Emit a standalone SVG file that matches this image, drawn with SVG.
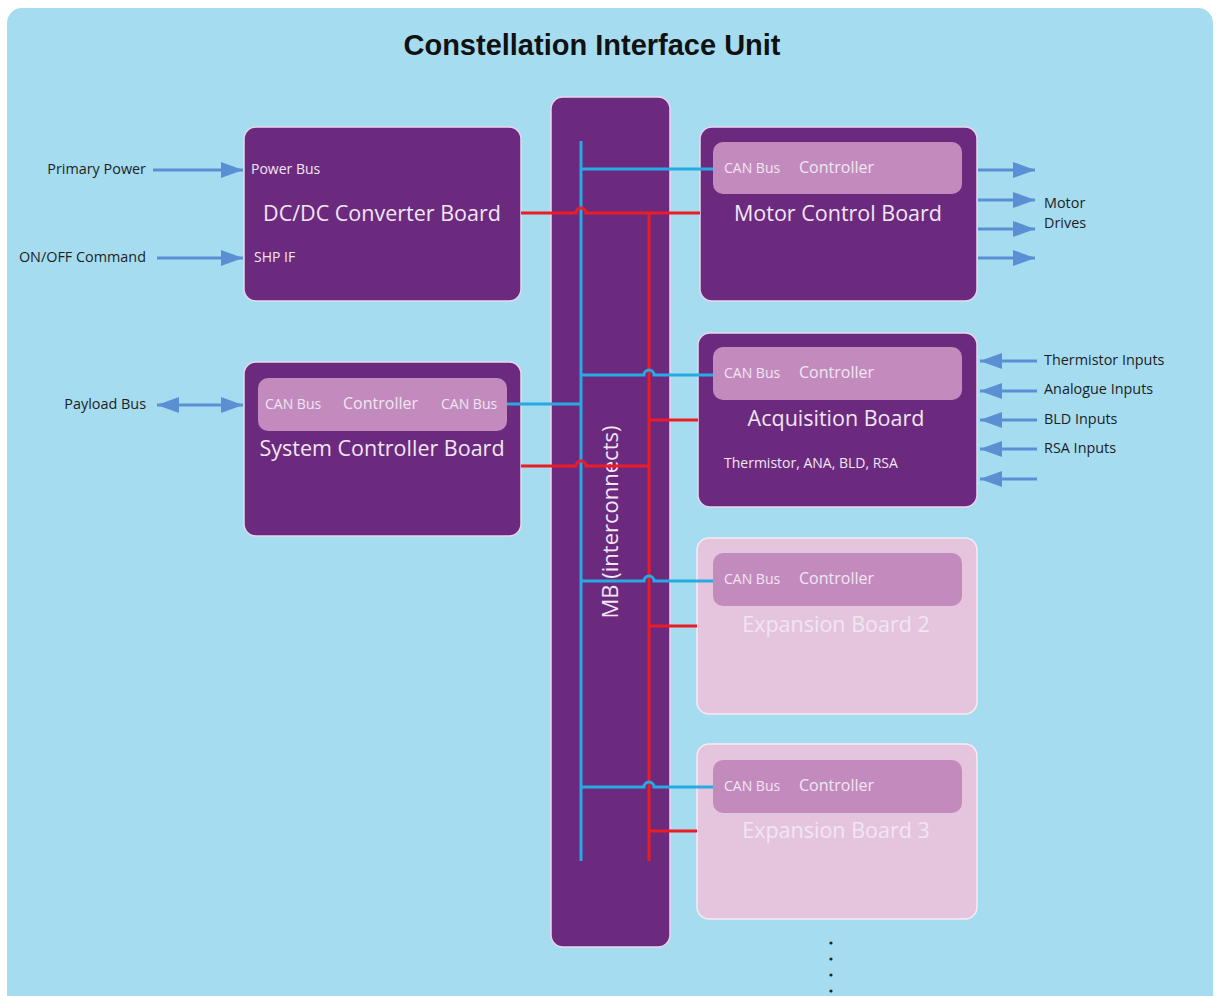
<svg xmlns="http://www.w3.org/2000/svg" width="1216" height="996" viewBox="0 0 1216 996">
<defs>
<marker id="ah" markerUnits="userSpaceOnUse" markerWidth="24" markerHeight="16" refX="22" refY="8" orient="auto-start-reverse">
<path d="M0 0 L22 8 L0 16 Z" fill="#5b8fd3"/>
</marker>
<style>
.board{fill:#6c2a7f;stroke:#e9d6ee;stroke-width:1.5}
.exp{fill:#e5c5de;stroke:#f6ecf4;stroke-width:1.5}
.inner{fill:#c38bbd}
.t{font-family:"Open Sans","DejaVu Sans",sans-serif;fill:#f1e6f3}
.sm{font-size:14px}
.md{font-size:16px}
.lg{font-size:21.5px}
.lbl{font-family:"Open Sans","DejaVu Sans",sans-serif;font-size:14.4px;fill:#1e1e1e}
.arr{stroke:#5b8fd3;stroke-width:3;fill:none}
.blue{stroke:#27a9e1;stroke-width:3;fill:none}
.red{stroke:#ec1c24;stroke-width:3;fill:none}
</style>
</defs>
<rect width="1216" height="996" fill="#ffffff"/>
<rect x="7" y="8" width="1206" height="1010" rx="15" fill="#a5dcf0"/>
<text x="592" y="55" text-anchor="middle" font-family="Liberation Sans,Arial,sans-serif" font-weight="bold" font-size="29" fill="#111">Constellation Interface Unit</text>

<g id="mb">
<rect x="551" y="97" width="119" height="850" rx="12" class="board"/>
<text class="t" font-size="22" transform="translate(618 522) rotate(-90)" text-anchor="middle">MB (interconnects)</text>
</g>

<g id="dcdc">
<rect x="244" y="127" width="277" height="174" rx="12" class="board"/>
<text class="t sm" x="251" y="174">Power Bus</text>
<text class="t sm" x="254" y="262">SHP IF</text>
<text class="t lg" x="382" y="221" text-anchor="middle">DC/DC Converter Board</text>
</g>

<g id="motor">
<rect x="700" y="127" width="277" height="174" rx="12" class="board"/>
<rect x="713" y="142" width="249" height="52" rx="10" class="inner"/>
<text class="t sm" x="724" y="173">CAN Bus</text>
<text class="t md" x="799" y="173">Controller</text>
<text class="t lg" x="838" y="221" text-anchor="middle">Motor Control Board</text>
</g>

<g id="acq">
<rect x="698" y="333" width="279" height="174" rx="12" class="board"/>
<rect x="713" y="347" width="249" height="53" rx="10" class="inner"/>
<text class="t sm" x="724" y="378">CAN Bus</text>
<text class="t md" x="799" y="378">Controller</text>
<text class="t lg" x="836" y="426" text-anchor="middle">Acquisition Board</text>
<text class="t sm" x="724" y="468">Thermistor, ANA, BLD, RSA</text>
</g>

<g id="sysctrl">
<rect x="244" y="362" width="277" height="174" rx="12" class="board"/>
<rect x="258" y="378" width="249" height="53" rx="10" class="inner"/>
<text class="t sm" x="265" y="409">CAN Bus</text>
<text class="t md" x="343" y="409">Controller</text>
<text class="t sm" x="441" y="409">CAN Bus</text>
<text class="t lg" x="382" y="456" text-anchor="middle">System Controller Board</text>
</g>

<g id="exp2">
<rect x="697" y="538" width="280" height="176" rx="12" class="exp"/>
<rect x="713" y="553" width="249" height="53" rx="10" class="inner"/>
<text class="t sm" x="724" y="584">CAN Bus</text>
<text class="t md" x="799" y="584">Controller</text>
<text class="t lg" x="836" y="632" text-anchor="middle">Expansion Board 2</text>
</g>

<g id="exp3">
<rect x="697" y="744" width="280" height="175" rx="12" class="exp"/>
<rect x="713" y="760" width="249" height="53" rx="10" class="inner"/>
<text class="t sm" x="724" y="791">CAN Bus</text>
<text class="t md" x="799" y="791">Controller</text>
<text class="t lg" x="836" y="838" text-anchor="middle">Expansion Board 3</text>
</g>

<g id="connectors">
<path class="blue" d="M581 141 V861"/>
<path class="red" d="M649 213 V861"/>
<path class="red" d="M521 213 H576 a5 5 0 0 1 10 0 H700"/>
<path class="blue" d="M581 169 H713"/>
<path class="blue" d="M581 375 H644 a5 5 0 0 1 10 0 H713"/>
<path class="blue" d="M507 404 H581"/>
<path class="red" d="M649 420 H698"/>
<path class="red" d="M521 466 H576 a5 5 0 0 1 10 0 H649"/>
<path class="blue" d="M581 581 H644 a5 5 0 0 1 10 0 H713"/>
<path class="red" d="M649 626 H697"/>
<path class="blue" d="M581 787 H644 a5 5 0 0 1 10 0 H713"/>
<path class="red" d="M649 831 H697"/>

<path class="arr" d="M153 170 H243" marker-end="url(#ah)"/>
<path class="arr" d="M157 258 H243" marker-end="url(#ah)"/>
<path class="arr" d="M157 405 H243" marker-start="url(#ah)" marker-end="url(#ah)"/>
<path class="arr" d="M978 170 H1035" marker-end="url(#ah)"/>
<path class="arr" d="M978 200 H1035" marker-end="url(#ah)"/>
<path class="arr" d="M978 229 H1035" marker-end="url(#ah)"/>
<path class="arr" d="M978 258 H1035" marker-end="url(#ah)"/>
<path class="arr" d="M1037 361 H980" marker-end="url(#ah)"/>
<path class="arr" d="M1037 391 H980" marker-end="url(#ah)"/>
<path class="arr" d="M1037 420 H980" marker-end="url(#ah)"/>
<path class="arr" d="M1037 449 H980" marker-end="url(#ah)"/>
<path class="arr" d="M1037 479 H980" marker-end="url(#ah)"/>
</g>

<g id="labels">
<text class="lbl" x="146" y="174" text-anchor="end">Primary Power</text>
<text class="lbl" x="146" y="262" text-anchor="end">ON/OFF Command</text>
<text class="lbl" x="146" y="409" text-anchor="end">Payload Bus</text>
<text class="lbl" x="1044" y="208">Motor</text>
<text class="lbl" x="1044" y="228">Drives</text>
<text class="lbl" x="1044" y="365">Thermistor Inputs</text>
<text class="lbl" x="1044" y="394">Analogue Inputs</text>
<text class="lbl" x="1044" y="424">BLD Inputs</text>
<text class="lbl" x="1044" y="453">RSA Inputs</text>
</g>

<g id="dots" fill="#222">
<circle cx="831" cy="943" r="1.6"/>
<circle cx="831" cy="959" r="1.6"/>
<circle cx="831" cy="975" r="1.6"/>
<circle cx="831" cy="991" r="1.6"/>
</g>
</svg>
